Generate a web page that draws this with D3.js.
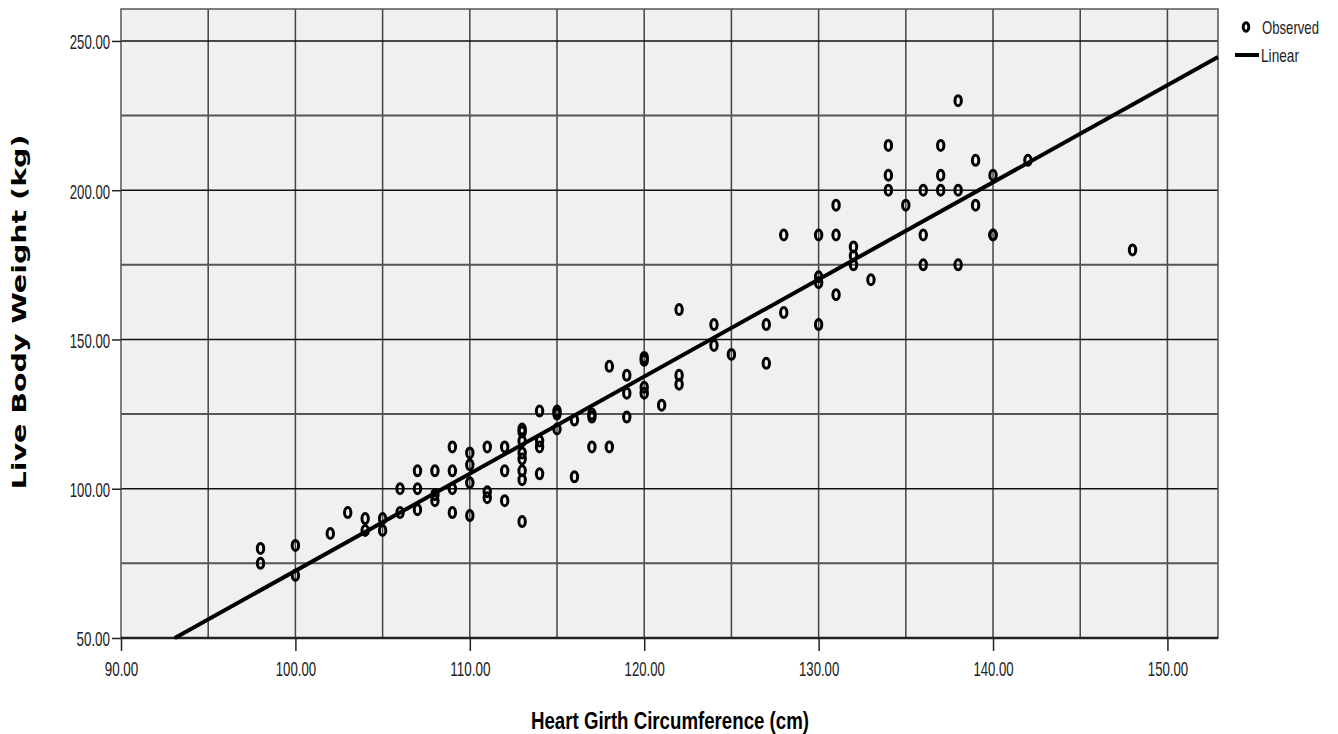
<!DOCTYPE html>
<html>
<head>
<meta charset="utf-8">
<script src="https://cdn.jsdelivr.net/npm/d3@7"></script>
<style>
  body { margin: 0; background: #fff; }
  svg { display: block; }
  .tick-label { font-family: "Liberation Sans Narrow", "Liberation Sans", Arial, sans-serif; font-size: 21px; fill: #222; }
</style>
</head>
<body>
<svg id="chart" width="1338" height="734"></svg>
<script>
// observed points (girth in cm, weight in kg)
const girth = [
  98, 98, 100, 100, 102, 103, 104, 104, 105, 105,
  106, 106, 107, 107, 107, 108, 108, 108,
  109, 109, 109, 109, 110, 110, 110, 110,
  111, 111, 111, 112, 112, 112,
  113, 113, 113, 113, 113, 113, 113, 113,
  114, 114, 114, 114, 115, 115, 115, 116, 116,
  117, 117, 117, 118, 118, 119, 119, 119,
  120, 120, 120, 120, 121, 122, 122, 122,
  124, 124, 125, 127, 127, 128, 128,
  130, 130, 130, 130, 131, 131, 131, 132, 132, 132, 133,
  134, 134, 134, 135, 136, 136, 136, 137, 137, 137,
  138, 138, 138, 139, 139, 140, 140, 140, 142, 148
];
const weight = [
  80, 75, 81, 71, 85, 92, 90, 86, 90, 86,
  100, 92, 106, 100, 93, 106, 98, 96,
  114, 106, 100, 92, 112, 108, 102, 91,
  114, 99, 97, 114, 106, 96,
  120, 119, 116, 112, 110, 106, 103, 89,
  126, 116, 114, 105, 126, 125, 120, 123, 104,
  125, 124, 114, 141, 114, 138, 132, 124,
  144, 143, 134, 132, 128, 160, 138, 135,
  155, 148, 145, 155, 142, 185, 159,
  185, 171, 169, 155, 195, 185, 165, 181, 178, 175, 170,
  215, 205, 200, 195, 200, 185, 175, 215, 205, 200,
  230, 200, 175, 210, 195, 205, 185, 185, 210, 180
];

// fitted line, read from where it meets the frame
const fitIntercept = -252.9;
const fitSlope = 3.254;

const xTicks = [90, 100, 110, 120, 130, 140, 150];
const yTicks = [50, 100, 150, 200, 250];
const xGrid = [95, 100, 105, 110, 115, 120, 125, 130, 135, 140, 145, 150];
const yGrid = [75, 100, 125, 150, 175, 200, 225, 250];

const xLabel = 'Heart Girth Circumference (cm)';
const yLabel = 'Live Body Weight (kg)';
const legendItems = ['Observed', 'Linear'];

const plot = { left: 121, right: 1218, top: 9, bottom: 638 };
const narrow = '"Liberation Sans Narrow", "Liberation Sans", Arial, sans-serif';

let svg = d3.select('#chart');

let x = d3.scaleLinear().domain([90, 152.9]).range([plot.left, plot.right]);
let y = d3.scaleLinear().domain([50, 260.7]).range([plot.bottom, plot.top]);

// squeeze a text sideways so it spans `width` px (keeps its bbox honest)
function squeeze(sel, width) {
  sel.each(function () {
    let natural = this.getComputedTextLength();
    let k = natural > 0 ? width / natural : 1;
    let t = d3.select(this);
    t.attr('transform', (t.attr('transform') || '') + ` scale(${k},1)`);
  });
}

// plot background
svg.append('rect')
  .attr('x', plot.left)
  .attr('y', plot.top)
  .attr('width', plot.right - plot.left)
  .attr('height', plot.bottom - plot.top)
  .style('fill', '#f0f0f0');

// grid
svg.append('g').selectAll('line')
  .data(xGrid)
  .join('line')
  .attr('x1', d => x(d)).attr('x2', d => x(d))
  .attr('y1', plot.top).attr('y2', plot.bottom)
  .style('stroke', '#444')
  .style('stroke-width', 1.5);

svg.append('g').selectAll('line')
  .data(yGrid)
  .join('line')
  .attr('x1', plot.left).attr('x2', plot.right)
  .attr('y1', d => y(d)).attr('y2', d => y(d))
  .style('stroke', d => d % 50 === 0 ? '#111' : '#555')
  .style('stroke-width', d => d % 50 === 0 ? 1.6 : 2);

// frame
svg.append('rect')
  .attr('x', plot.left)
  .attr('y', plot.top)
  .attr('width', plot.right - plot.left)
  .attr('height', plot.bottom - plot.top)
  .style('fill', 'none')
  .style('stroke', '#555')
  .style('stroke-width', 1.5);

svg.append('line')
  .attr('x1', plot.left).attr('x2', plot.right)
  .attr('y1', plot.bottom).attr('y2', plot.bottom)
  .style('stroke', '#222')
  .style('stroke-width', 2.5);

// axes, then restyled to look like the original
let xAxis = svg.append('g')
  .attr('transform', `translate(0,${plot.bottom})`)
  .call(d3.axisBottom(x).tickValues(xTicks).tickSize(13).tickFormat(d3.format('.2f')));
let yAxis = svg.append('g')
  .attr('transform', `translate(${plot.left},0)`)
  .call(d3.axisLeft(y).tickValues(yTicks).tickSize(9).tickFormat(d3.format('.2f')));

for (let ax of [xAxis, yAxis]) {
  ax.select('.domain').remove();
  ax.selectAll('.tick line').style('stroke', '#222').style('stroke-width', 1.5);
  ax.selectAll('.tick text')
    .attr('class', 'tick-label')
    .attr('font-family', null)
    .attr('font-size', null)
    .attr('lengthAdjust', 'spacingAndGlyphs')
    .attr('textLength', function () { return this.textContent.length * 6.7; });
}
xAxis.selectAll('.tick text').attr('y', 0).attr('dy', 0).attr('transform', 'translate(0,38)');
yAxis.selectAll('.tick text').attr('x', -11).attr('dy', '0.38em');

// fit line
let fitStart = (50 - fitIntercept) / fitSlope;
let fitEnd = x.domain()[1];
svg.append('line')
  .attr('x1', x(fitStart)).attr('y1', y(fitIntercept + fitSlope * fitStart))
  .attr('x2', x(fitEnd)).attr('y2', y(fitIntercept + fitSlope * fitEnd))
  .style('stroke', '#000')
  .style('stroke-width', 4);

// points
svg.append('g').selectAll('ellipse')
  .data(girth.map((g, i) => [g, weight[i]]))
  .join('ellipse')
  .attr('cx', d => x(d[0]))
  .attr('cy', d => y(d[1]))
  .attr('rx', 3.2)
  .attr('ry', 5)
  .style('fill', 'none')
  .style('stroke', '#000')
  .style('stroke-width', 3);

// axis titles
svg.append('text')
  .attr('x', 670)
  .attr('y', 729)
  .attr('text-anchor', 'middle')
  .attr('textLength', 278)
  .attr('lengthAdjust', 'spacingAndGlyphs')
  .style('font-family', narrow)
  .style('font-weight', 'bold')
  .style('font-size', '23px')
  .text(xLabel);

svg.append('text')
  .attr('transform', 'translate(26,312) rotate(-90)')
  .attr('text-anchor', 'middle')
  .attr('textLength', 355)
  .attr('lengthAdjust', 'spacingAndGlyphs')
  .style('font-family', '"DejaVu Sans", Verdana, sans-serif')
  .style('font-weight', 'bold')
  .style('font-size', '20px')
  .text(yLabel);

// legend
let legend = svg.append('g');
legend.append('ellipse')
  .attr('cx', 1246).attr('cy', 27)
  .attr('rx', 2.8).attr('ry', 4.3)
  .style('fill', 'none')
  .style('stroke', '#000')
  .style('stroke-width', 3);
legend.append('line')
  .attr('x1', 1235).attr('x2', 1259)
  .attr('y1', 55).attr('y2', 55)
  .style('stroke', '#000')
  .style('stroke-width', 4);
legend.selectAll('text')
  .data(legendItems)
  .join('text')
  .attr('transform', (d, i) => i === 0 ? 'translate(1262,34)' : 'translate(1261,62)')
  .style('font-family', narrow)
  .style('font-size', '18px')
  .style('fill', '#222')
  .text(d => d)
  .call(sel => sel.each(function (d, i) { squeeze(d3.select(this), i === 0 ? 57 : 38); }));
</script>
</body>
</html>
